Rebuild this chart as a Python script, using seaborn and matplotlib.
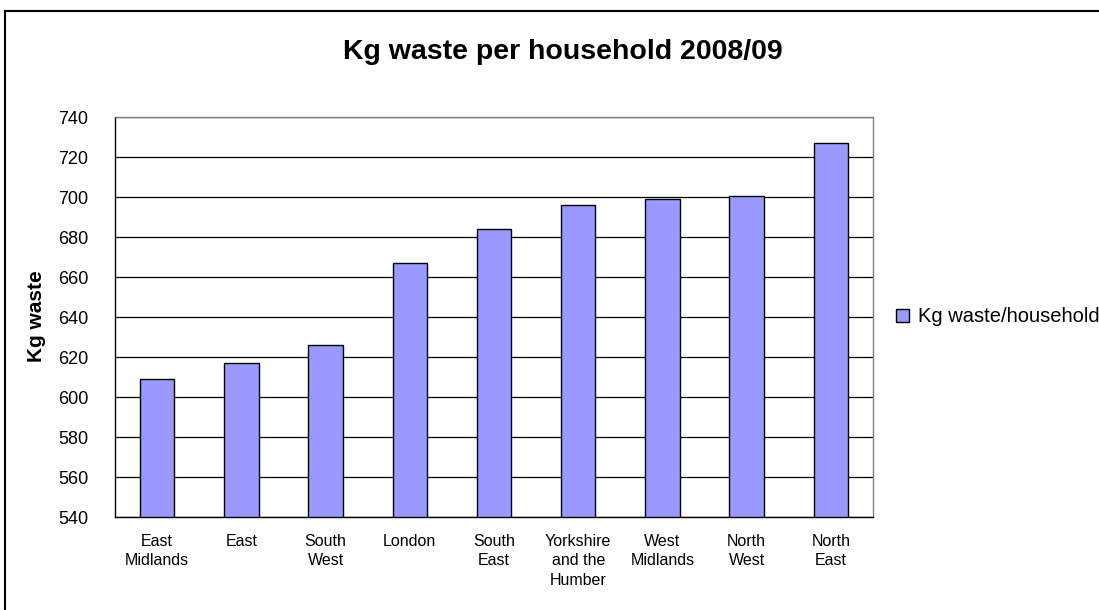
"""Kg waste per household by region, 2008/09 (Excel-style bar chart)."""

import matplotlib

matplotlib.use("Agg")

import matplotlib.pyplot as plt
import pandas as pd
import seaborn as sns
from matplotlib.lines import Line2D
from matplotlib.patches import Patch
from matplotlib.ticker import FixedLocator, NullFormatter

REGIONS = [
    "East\nMidlands",
    "East",
    "South\nWest",
    "London",
    "South\nEast",
    "Yorkshire\nand the\nHumber",
    "West\nMidlands",
    "North\nWest",
    "North\nEast",
]
KG_WASTE = [609, 617, 626, 667, 684, 696, 699, 700.5, 727]
Y_TICKS = list(range(540, 741, 20))

SERIES_NAME = "Kg waste/household"
TITLE = "Kg waste per household 2008/09"
Y_LABEL = "Kg waste"
BAR_COLOR = "#9999FF"

W, H = 1099, 610


def main() -> None:
    sns.set_style("white")
    plt.rcParams["font.family"] = ["Liberation Sans", "DejaVu Sans"]
    plt.rcParams["text.color"] = "black"
    plt.rcParams["xtick.color"] = "black"
    plt.rcParams["ytick.color"] = "black"
    plt.rcParams["xtick.labelcolor"] = "black"
    plt.rcParams["ytick.labelcolor"] = "black"

    df = pd.DataFrame({"region": REGIONS, "kg": KG_WASTE})

    fig = plt.figure(figsize=(W / 100, H / 100), dpi=100)
    ax = fig.add_axes([115 / W, 1 - 517 / H, (873 - 115) / W, (517 - 117) / H])

    ax.set_axisbelow(True)
    ax.yaxis.grid(True, color="black", linewidth=0.9)
    sns.barplot(
        data=df, x="region", y="kg", color=BAR_COLOR, width=0.41,
        edgecolor="black", linewidth=1.0, saturation=1, ax=ax,
    )

    ax.set_ylim(540, 740)
    ax.set_yticks(Y_TICKS)
    ax.set_xlim(-0.5, len(REGIONS) - 0.5)

    # category tick marks sit between the bars, as in Excel
    ax.xaxis.set_minor_locator(FixedLocator([i - 0.5 for i in range(len(REGIONS) + 1)]))
    ax.xaxis.set_minor_formatter(NullFormatter())
    ax.tick_params(axis="x", which="minor", length=6, width=0.9, color="black", direction="out")
    ax.tick_params(axis="x", which="major", length=0, pad=12, labelsize=11.5,
                   labelcolor="black")
    ax.tick_params(axis="y", length=7, width=0.9, color="black", direction="out",
                   pad=12, labelsize=13, labelcolor="black")
    for lab in ax.get_xticklabels():
        lab.set_linespacing(1.4)
        lab.set_verticalalignment("top")

    for side in ("left", "bottom"):
        ax.spines[side].set_color("black")
        ax.spines[side].set_linewidth(1.0)
    for side in ("top", "right"):
        ax.spines[side].set_color("#808080")
        ax.spines[side].set_linewidth(1.0)

    ax.set_xlabel("")
    ax.set_ylabel("")
    fig.text(37 / W, 1 - 316 / H, Y_LABEL, rotation=90, fontsize=15, fontweight="bold",
             ha="center", va="center", color="black")
    fig.text(563 / W, 1 - 52 / H, TITLE, fontsize=20.5, fontweight="bold",
             ha="center", va="center", color="black")

    handle = Patch(facecolor=BAR_COLOR, edgecolor="black", linewidth=1.0)
    fig.legend(
        [handle], [SERIES_NAME], loc="center left",
        bbox_to_anchor=(896 / W, 1 - 317 / H), frameon=False, fontsize=14.5,
        handlelength=0.65, handleheight=0.65, handletextpad=0.45,
        borderpad=0, borderaxespad=0,
    )

    # outer chart border (right and bottom edges fall outside the image)
    fig.add_artist(Line2D([5 / W, 5 / W], [0, 1 - 11 / H], transform=fig.transFigure,
                          color="black", linewidth=1.5))
    fig.add_artist(Line2D([5 / W, 1], [1 - 11 / H, 1 - 11 / H], transform=fig.transFigure,
                          color="black", linewidth=1.5))

    fig.savefig("out.png", dpi=100)
    plt.close(fig)


if __name__ == "__main__":
    main()
